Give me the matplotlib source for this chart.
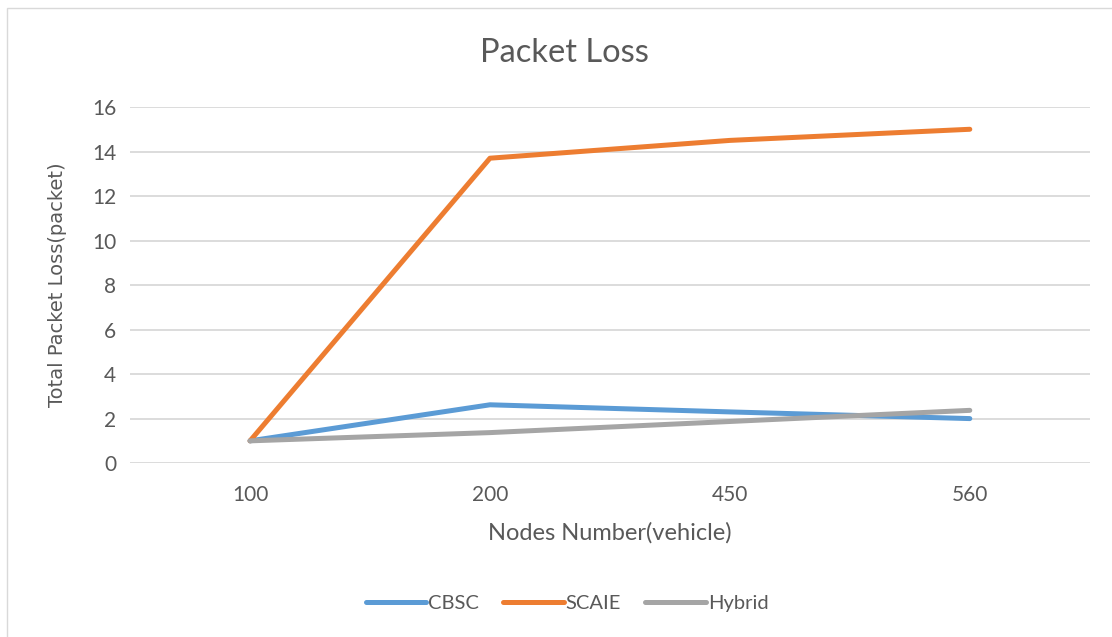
import matplotlib.pyplot as plt
from matplotlib.patches import Rectangle

categories = ['100', '200', '450', '560']
cbsc = [1.0, 2.62, 2.3, 2.0]
scaie = [1.0, 13.7, 14.5, 15.0]
hybrid = [1.0, 1.37, 1.87, 2.37]

txt = '#595959'
plt.rcParams['font.family'] = ['Lato', 'DejaVu Sans']

fig = plt.figure(figsize=(11.12, 6.37), dpi=100)
ax = fig.add_axes([0.117, 0.273, 0.863, 0.559])

# chart border like excel
fig.patches.append(Rectangle((0.006, -0.01), 1.0, 0.998, transform=fig.transFigure,
                             fill=False, edgecolor='#d9d9d9', linewidth=1.0))

x = range(len(categories))
ax.plot(x, cbsc, color='#5B9BD5', lw=3.6, solid_capstyle='round', label='CBSC', zorder=3)
ax.plot(x, scaie, color='#ED7D31', lw=3.6, solid_capstyle='round', label='SCAIE', zorder=3)
ax.plot(x, hybrid, color='#A5A5A5', lw=3.6, solid_capstyle='round', label='Hybrid', zorder=4)

ax.set_xlim(-0.5, 3.5)
ax.set_ylim(0, 16)
ax.set_yticks(range(0, 17, 2))
ax.set_xticks(list(x))
ax.set_xticklabels(categories)
ax.grid(axis='y', color='#d9d9d9', linewidth=1.3)
ax.set_axisbelow(True)
for s in ax.spines.values():
    s.set_visible(False)
ax.tick_params(length=0, labelsize=15, colors=txt, pad=10)
ax.tick_params(axis='x', pad=16)

ax.set_xlabel('Nodes Number(vehicle)', fontsize=17, color=txt, labelpad=12)
ax.set_ylabel('Total Packet Loss(packet)', fontsize=14, color=txt, family='DejaVu Sans', labelpad=18)
fig.suptitle('Packet Loss', x=0.508, y=0.94, fontsize=23.5, color=txt)

fig.legend(loc='center', bbox_to_anchor=(0.51, 0.052), ncol=3, frameon=False,
           fontsize=14.5, labelcolor=txt, handlelength=3.0, handletextpad=0.1, columnspacing=1.2)

fig.savefig('out.png', dpi=100)
